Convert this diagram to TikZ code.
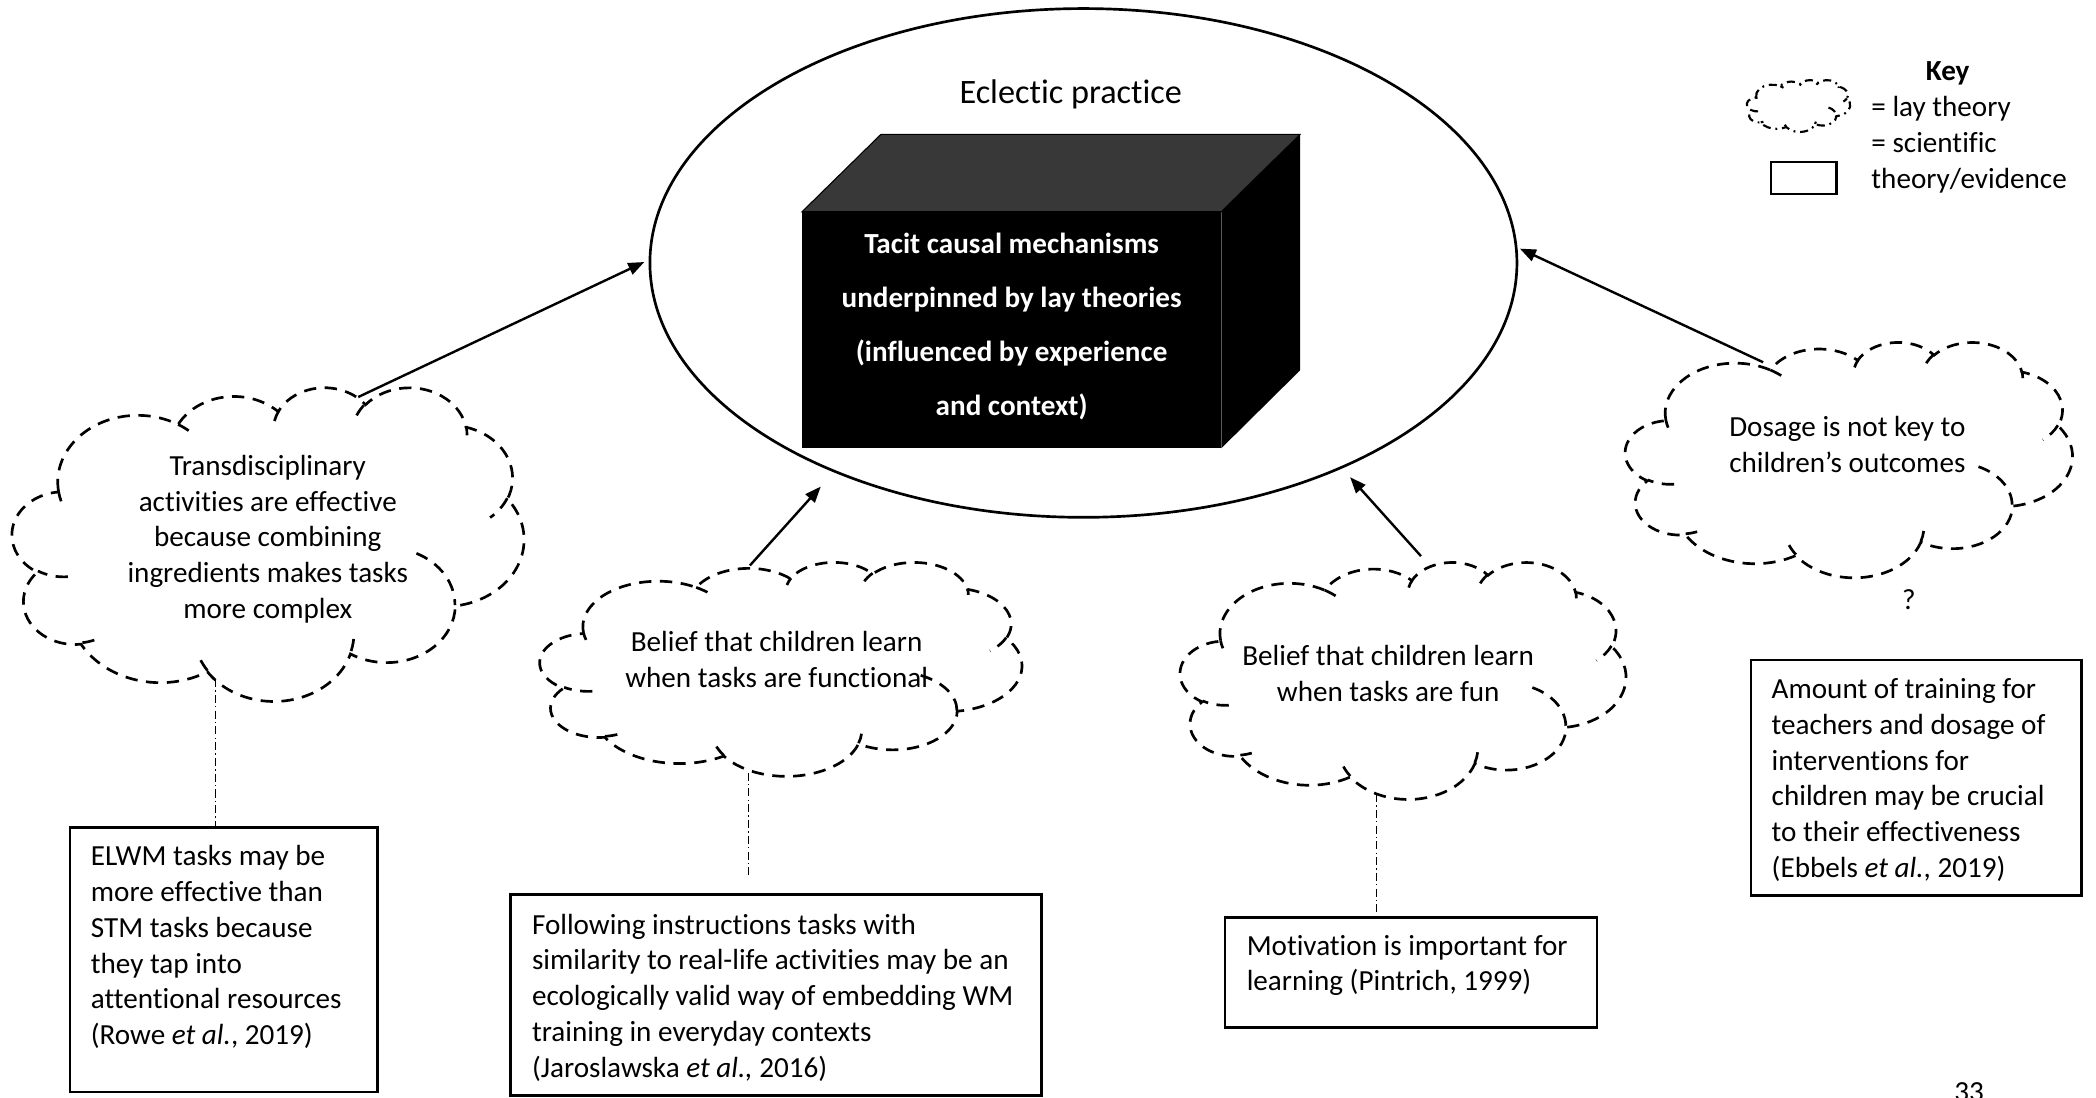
\documentclass[tikz,border=0pt]{standalone}
\usepackage{fontspec}
\setmainfont{Carlito}[Ligatures=NoCommon]
\usetikzlibrary{shapes.geometric,arrows.meta}

% Office-style cloud outline, defined on a 43.2 x 43.2 grid (y downwards).
% Each puff is an elliptical arc given by its radii and its start/sweep
% angles (visual angles), converted here to parametric angles.
\newcommand\cldconv[3]{%
  \pgfmathsetmacro\cldT{#3}%
  \pgfmathsetmacro\cldR{\cldT+mod(atan2((#1)*sin(\cldT),(#2)*cos(\cldT))-(\cldT)+540,360)-180}%
}
\newcommand\cldarc[4]{%
  \pgfextra{\cldconv{#1}{#2}{#3}\xdef\cldS{\cldR}\cldconv{#1}{#2}{(#3)+(#4)}\xdef\cldE{\cldR}}%
  arc[start angle=\cldS, end angle=\cldE, x radius=#1, y radius=#2]}

\newcommand\cldouter{(3.9,14.37)
  \cldarc{6.753}{9.19}{-190.4875}{123.7805}
  \cldarc{5.333}{7.267}{-144.1024}{89.9452}
  \cldarc{4.365}{5.945}{-145.8079}{99.7230}
  \cldarc{4.857}{6.595}{-130.9861}{117.2417}
  \cldarc{5.333}{7.273}{-78.7089}{109.0269}
  \cldarc{6.775}{9.22}{-46.2673}{130.2690}
  \cldarc{5.785}{7.867}{0.6250}{114.0333}
  \cldarc{6.752}{9.215}{22.4516}{115.1726}
  \cldarc{7.72}{10.543}{66.2426}{75.7110}
  \cldarc{4.36}{5.918}{-274.9421}{146.7356}
  \cldarc{4.345}{5.945}{-246.8285}{152.5189}
  -- cycle}

\newcommand\cldinner{%
  (4.693,26.177) \cldarc{4.345}{5.945}{86.7420}{26.4295}
  (6.928,34.899) \cldarc{4.36}{5.918}{73.6105}{11.4475}
  (16.478,39.09) \cldarc{6.752}{9.215}{137.6242}{14.0811}
  (28.827,34.751) \cldarc{6.752}{9.215}{6.4533}{15.9984}
  (34.129,22.954) \cldarc{5.785}{7.867}{-70.2924}{70.9174}
  (41.798,15.354) \cldarc{5.333}{7.273}{30.3180}{27.7515}
  (38.324,5.426) \cldarc{4.857}{6.595}{-13.7443}{14.8589}
  (29.078,3.952) \cldarc{4.857}{6.595}{-149.1815}{18.1954}
  (22.141,4.72) \cldarc{4.365}{5.945}{-163.4943}{17.6864}
  (14.0,5.192) \cldarc{6.753}{9.19}{-66.7070}{12.3194}
  (4.127,15.789) \cldarc{6.753}{9.19}{157.6544}{11.8582}}

% \laycloud[style]{left}{top}{width}{height}
\newcommand\laycloud[5][]{%
  \begin{scope}[shift={(#2,#3)},x=1cm,y=1cm,xscale=#4/2458.3,yscale=-#5/2458.3]
    \draw[laycloudline,#1] \cldouter;
    \draw[laycloudline,#1] \cldinner;
  \end{scope}}

\tikzset{
  laycloudline/.style={line width=1pt, dash pattern=on 4.6pt off 3.2pt},
  keycloudline/.style={line width=0.8pt, dash pattern=on 3pt off 1.8pt on 0.7pt off 1.8pt},
  evidence/.style={draw, line width=0.9pt, anchor=north west},
  linkarrow/.style={line width=0.9pt, -{Triangle[length=6pt,width=4.6pt]}},
  evlink/.style={line width=0.35pt, dash pattern=on 3pt off 1.2pt on 0.5pt off 1.2pt},
  % multi-line texts are placed by the baseline of their last line
  cloudtext/.style={align=center, anchor=base},
  boxtext/.style={align=left, anchor=base west},
}

\begin{document}
\begin{tikzpicture}[x=0.5pt, y=-0.5pt,
    every node/.style={inner sep=0pt, outer sep=0pt},
    font=\fontsize{10.9}{13.4}\selectfont]
  \useasboundingbox (0,0) rectangle (1568,821);
  \clip (0,0) rectangle (1568,821);

  % central practice ellipse
  \node[draw, ellipse, line width=1pt, minimum width=324.3pt, minimum height=190.3pt]
    (practice) at (810.5,196.7) {};
  \node[anchor=base, font=\fontsize{12.8}{15}\selectfont] (title) at (801,77.3) {Eclectic practice};

  % black box of tacit mechanisms
  \node[fill=black, minimum width=156.8pt, minimum height=88.5pt, anchor=north west]
    (mechbox) at (600,158.4) {};
  \filldraw[fill=black!78, draw=black, line width=0.4pt]
    (mechbox.north west) -- ++(59,-57.9) -- ++(313.6,0) -- (mechbox.north east) -- cycle;
  \fill[black] (mechbox.north east) -- ++(59,-57.9) -- ++(0,176.5) -- (mechbox.south east) -- cycle;
  \node[anchor=base, align=center, text=white, font=\bfseries\fontsize{10.9}{20.2}\selectfont]
    (mechtext) at (756.8,310.6)
    {Tacit causal mechanisms\\underpinned by lay theories\\(influenced by experience\\and context)};

  % lay theories
  \laycloud{9.2}{289.3}{382.7}{234.6}
  \node[cloudtext] (transtext) at (200.3,462.7)
    {Transdisciplinary\\activities are effective\\because combining\\ingredients makes tasks\\more complex};
  \laycloud{404}{420.2}{360.4}{160}
  \node[cloudtext] (functext) at (581,514.3)
    {Belief that children learn\\when tasks are functional};
  \laycloud{883}{420.2}{333.3}{177.2}
  \node[cloudtext] (funtext) at (1038.5,524.8)
    {Belief that children learn\\when tasks are fun};
  \laycloud{1216}{255.6}{334.3}{176}
  \node[cloudtext] (dosetext) at (1382,353.3)
    {Dosage is not key to\\children’s outcomes};
  \node[anchor=base] (query) at (1428,456) {?};

  % scientific theory / evidence
  \node[evidence, minimum width=115.05pt, minimum height=99pt] (elwm) at (52.4,619) {};
  \node[boxtext] (elwmtext) at (68,781.5)
    {ELWM tasks may be\\more effective than\\STM tasks because\\they tap into\\attentional resources\\(Rowe \textit{et al.}, 2019)};
  \node[evidence, minimum width=198.5pt, minimum height=75.25pt] (instr) at (382,669) {};
  \node[boxtext] (instrtext) at (398,806)
    {Following instructions tasks with\\similarity to real-life activities may be an\\ecologically valid way of embedding WM\\training in everyday contexts\\(Jaroslawska \textit{et al.,} 2016)};
  \node[evidence, minimum width=139pt, minimum height=41pt] (motiv) at (916.5,686.5) {};
  \node[boxtext] (motivtext) at (932.7,741.3)
    {Motivation is important for\\learning (Pintrich, 1999)};
  \node[evidence, minimum width=123.5pt, minimum height=88.1pt] (dosebox) at (1310,493.8) {};
  \node[boxtext] (dosetextb) at (1325.4,656.5)
    {Amount of training for\\teachers and dosage of\\interventions for\\children may be crucial\\to their effectiveness\\(Ebbels \textit{et al.}, 2019)};

  % key
  \laycloud[keycloudline]{1306.8}{59.8}{77.3}{38.8}
  \node[anchor=base, font=\bfseries\fontsize{10.9}{13.4}\selectfont] (keytitle) at (1457,60) {Key};
  \node[boxtext] (keytext) at (1400,141.1) {= lay theory\\= scientific\\theory/evidence};
  \node[draw, line width=0.9pt, minimum width=24.5pt, minimum height=12pt, anchor=north west]
    (keybox) at (1325,121) {};

  % connector end points on the clouds
  \coordinate (c1top) at (268,297);
  \coordinate (c2top) at (561,423);
  \coordinate (c3top) at (1063,416);
  \coordinate (c4top) at (1319,271);
  \coordinate (t1) at (482,196);
  \coordinate (t2) at (614,364);
  \coordinate (t3) at (1010,357);
  \coordinate (t4) at (1137,186);
  \coordinate (c1bot) at (161.5,508);
  \coordinate (c2bot) at (560,578);
  \coordinate (c2end) at (560,657);
  \coordinate (c3bot) at (1030,594);

  % lay theories feed eclectic practice
  \draw[linkarrow] (c1top) -- (t1);
  \draw[linkarrow] (c2top) -- (t2);
  \draw[linkarrow] (c3top) -- (t3);
  \draw[linkarrow] (c4top) -- (t4);

  % links from lay theories to evidence
  \draw[evlink] (c1bot) -- (elwm.north -| c1bot);
  \draw[evlink] (c2bot) -- (c2end);
  \draw[evlink] (c3bot) -- (motiv.north -| c3bot);

  % page number
  \node[anchor=base west] (pagenum) at (1462,824) {33};
\end{tikzpicture}
\end{document}
